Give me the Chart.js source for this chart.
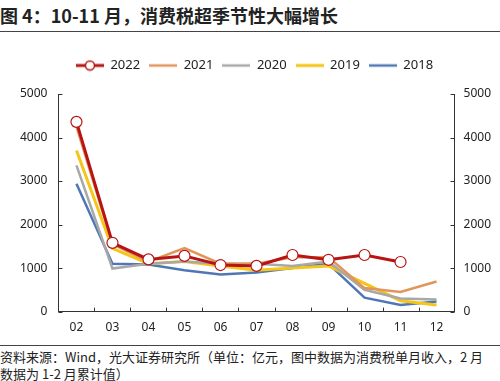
<!DOCTYPE html>
<html><head><meta charset="utf-8">
<script src="https://cdn.jsdelivr.net/npm/chart.js@4.4.1/dist/chart.umd.min.js"></script>
<style>
html,body{margin:0;padding:0;background:#fff;width:500px;height:381px;overflow:hidden;font-family:"Noto Sans CJK SC","Noto Sans",sans-serif;color:#222}
#title{position:absolute;left:0;top:2px;font-size:18px;font-weight:bold;white-space:nowrap;letter-spacing:0px;color:#222}
#line1{position:absolute;left:0;top:31px;width:500px;height:0;border-top:1.5px solid #444}
#line2{position:absolute;left:0;top:345px;width:500px;height:0;border-top:1.5px solid #444}
#wrap{position:absolute;left:0;top:45px;width:500px;height:300px}
#foot{position:absolute;left:0;top:348px;font-size:13px;line-height:17px;white-space:nowrap;color:#222}
</style></head><body>
<div id="title">图 4：10-11 月，消费税超季节性大幅增长</div>
<div id="line1"></div>
<div id="wrap"><canvas id="c" width="500" height="300"></canvas></div>
<div id="line2"></div>
<div id="foot">资料来源：Wind，光大证券研究所（单位：亿元，图中数据为消费税单月收入，2 月<br>数据为 1-2 月累计值）</div>
<script>
const months = ["02","03","04","05","06","07","08","09","10","11","12"];
const yearLabels = ["2022","2021","2020","2019","2018"];
const v2022 = [4360,1580,1200,1280,1070,1050,1300,1190,1300,1140,null];
const v2021 = [4250,1550,1150,1460,1100,1100,1250,1250,540,450,690];
const v2020 = [3360,990,1100,1150,1100,1100,1050,1150,500,300,280];
const v2019 = [3700,1450,1100,1150,1050,950,1000,1050,650,250,150];
const v2018 = [2940,1100,1080,950,850,900,1000,1100,320,150,230];
const yTicks = [0,1000,2000,3000,4000,5000];

const colors = ["#B81414","#E0955A","#A8A8A8","#F5C518","#4F77B5"];
const widths = [3,2.5,2.5,3,2.5];
const series = [v2022,v2021,v2020,v2019,v2018];

function legendIcon(i){
  const c=document.createElement('canvas'); c.width=28; c.height=12;
  const x=c.getContext('2d');
  x.strokeStyle=colors[i]; x.lineWidth=widths[i];
  x.beginPath(); x.moveTo(0,6); x.lineTo(28,6); x.stroke();
  if(i===0){ x.fillStyle='#fff'; x.lineWidth=1.5; x.beginPath(); x.arc(14,6,4.5,0,Math.PI*2); x.fill(); x.stroke(); }
  return c;
}

const legendGap = {
  id:'legendGap',
  beforeInit(chart){
    const lg=chart.legend; const orig=lg.fit;
    lg.fit=function(){ orig.call(this); this.height+=12; };
  }
};

const innerTicks = {
  id:'innerTicks',
  afterDraw(chart){
    const ctx=chart.ctx, xs=chart.scales.x, yl=chart.scales.y, yr=chart.scales.y2;
    ctx.save(); ctx.strokeStyle='#333'; ctx.lineWidth=1;
    const n=months.length;
    for(let i=1;i<n;i++){
      const px=Math.round((xs.getPixelForValue(i-1)+xs.getPixelForValue(i))/2)+0.5;
      ctx.beginPath(); ctx.moveTo(px,xs.top); ctx.lineTo(px,xs.top-4); ctx.stroke();
    }
    yTicks.forEach(t=>{
      const py=Math.round(yl.getPixelForValue(t))+0.5;
      ctx.beginPath(); ctx.moveTo(yl.right,py); ctx.lineTo(yl.right+4,py); ctx.stroke();
      ctx.beginPath(); ctx.moveTo(yr.left,py); ctx.lineTo(yr.left-4,py); ctx.stroke();
    });
    ctx.restore();
  }
};

const tickFont={family:'"Noto Sans",sans-serif',size:12};
new Chart(document.getElementById('c'),{
  type:'line',
  data:{labels:months,datasets:series.map((d,i)=>({
    label:yearLabels[i],data:d,borderColor:colors[i],backgroundColor:colors[i],
    borderWidth:widths[i],tension:0,spanGaps:false,
    pointRadius:i===0?5.5:0,pointBackgroundColor:'#fff',pointBorderColor:colors[0],pointBorderWidth:1.2,
    yAxisID:'y'
  }))},
  options:{
    responsive:false,animation:false,
    layout:{padding:{left:9,right:0,top:5,bottom:1}},
    plugins:{
      tooltip:{enabled:false},
      legend:{position:'top',labels:{
        usePointStyle:true,pointStyleWidth:28,boxHeight:12,padding:9,
        color:'#222',font:{family:'"Noto Sans","Noto Sans CJK SC",sans-serif',size:13},
        generateLabels:(chart)=>chart.data.datasets.map((ds,i)=>({
          text:ds.label,fillStyle:colors[i],strokeStyle:colors[i],lineWidth:0,
          pointStyle:legendIcon(i),datasetIndex:i,hidden:false,fontColor:'#222'
        }))
      }}
    },
    scales:{
      x:{offset:true,grid:{display:false,drawTicks:false,offset:true},border:{display:true,color:'#333',width:1},
        ticks:{color:'#222',font:tickFont,padding:9}},
      y:{position:'left',min:0,max:5000,grid:{display:false,drawTicks:false},border:{display:true,color:'#333',width:1},
        afterBuildTicks:(s)=>{s.ticks=yTicks.map(v=>({value:v}));},
        ticks:{color:'#222',font:tickFont,padding:11,callback:(v)=>String(v)}},
      y2:{position:'right',min:0,max:5000,grid:{display:false,drawTicks:false},border:{display:true,color:'#333',width:1},
        afterBuildTicks:(s)=>{s.ticks=yTicks.map(v=>({value:v}));},
        ticks:{color:'#222',font:tickFont,padding:9,callback:(v)=>String(v)}}
    }
  },
  plugins:[innerTicks,legendGap]
});
</script>
</body></html>
